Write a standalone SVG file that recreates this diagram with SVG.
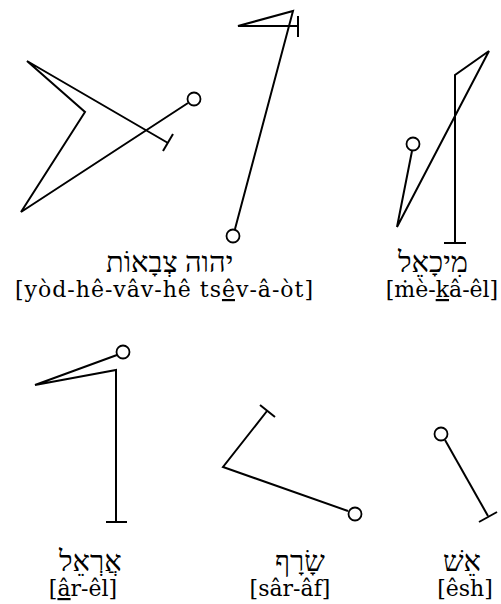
<svg xmlns="http://www.w3.org/2000/svg" width="501" height="604" viewBox="0 0 501 604">
<style>
.s{fill:none;stroke:#000;stroke-width:2;stroke-linejoin:miter;stroke-linecap:butt}
.c{fill:#fff;stroke:#000;stroke-width:1.8}
.he{font-family:"Liberation Serif","DejaVu Serif",serif;font-size:29px;fill:#000;text-anchor:start}
.tr{font-family:"DejaVu Serif","Liberation Serif",serif;font-size:22px;fill:#000;text-anchor:middle}
</style>
<rect width="501" height="604" fill="#fff"/>
<g id="connectors">
<path class="s" d="M188,103 L21,212 L85,112 L27,61 L168,143"/>
<path class="s" d="M163,151 L173,134"/>
<path class="s" d="M235,229 L293,11 L238,26 L298,26"/>
<path class="s" d="M298,16 L298,37"/>
<path class="s" d="M412,151 L397,227 L489,51 L455,75 L455,243"/>
<path class="s" d="M444,243 L466,243"/>
<path class="s" d="M117,355 L35,385 L116,370 L116,522"/>
<path class="s" d="M106,522 L127,522"/>
<path class="s" d="M267,411 L223,467 L348,511"/>
<path class="s" d="M260,405 L275,417"/>
<path class="s" d="M445,440 L488,516"/>
<path class="s" d="M479,522 L497,512"/>
</g>
<g id="node-tsevaot">
<circle class="c" cx="194" cy="99" r="6.5"/>
<circle class="c" cx="233" cy="236" r="6.5"/>
<text class="he" x="106" y="272">יהוה צְבָאוֹת</text>
<text class="tr" x="164" y="297" textLength="298" lengthAdjust="spacing">[yòd-hê-vâv-hê  ts<tspan text-decoration="underline">ê</tspan>v-â-òt]</text>
</g>
<g id="node-mikael">
<circle class="c" cx="413" cy="144" r="6.5"/>
<text class="he" x="398" y="272">מִיכָאֵל</text>
<text class="tr" x="442" y="297">[ṁè-<tspan text-decoration="underline">k</tspan>â-êl]</text>
</g>
<g id="node-ariel">
<circle class="c" cx="123" cy="352" r="6.5"/>
<text class="he" x="59" y="571">אֲרְאֵל</text>
<text class="tr" x="83" y="596">[<tspan text-decoration="underline">â</tspan>r-êl]</text>
</g>
<g id="node-saraf">
<circle class="c" cx="355" cy="514" r="6.5"/>
<text class="he" x="275" y="571">שָׂרָף</text>
<text class="tr" x="290" y="596">[sâr-âf]</text>
</g>
<g id="node-esh">
<circle class="c" cx="441" cy="434" r="6.5"/>
<text class="he" x="443" y="571">אֵשׁ</text>
<text class="tr" x="465" y="596">[êsh]</text>
</g>
</svg>
